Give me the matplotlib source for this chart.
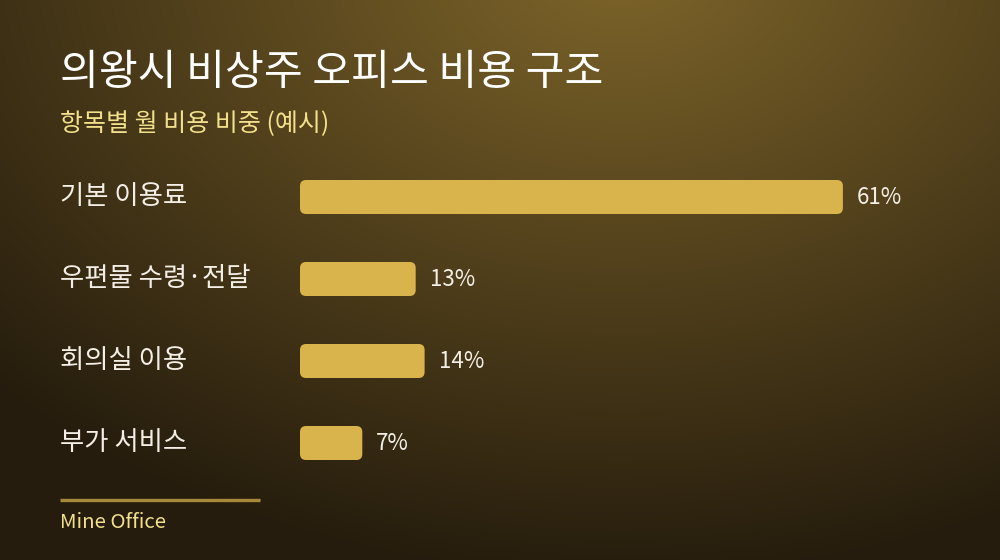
import numpy as np
import matplotlib
matplotlib.use('Agg')
import matplotlib.pyplot as plt
from matplotlib.patches import FancyBboxPatch
from matplotlib.transforms import blended_transform_factory

plt.rcParams['font.family'] = ['Noto Sans CJK KR', 'DejaVu Sans']

categories = ['기본 이용료', '우편물 수령·전달', '회의실 이용', '부가 서비스']
shares = [61, 13, 14, 7]
value_labels = ['61%', '13%', '14%', '7%']

title = '의왕시 비상주 오피스 비용 구조'
subtitle = '항목별 월 비용 비중 (예시)'
footer = 'Mine Office'

W, H = 1000, 560
fig = plt.figure(figsize=(W / 100, H / 100), dpi=100)

# background: radial glow from the top, fading to dark brown
bg = fig.add_axes([0, 0, 1, 1])
yy, xx = np.mgrid[0:H, 0:W]
d = np.sqrt(((xx - 620) / 1.4) ** 2 + (yy + 40) ** 2)
t = np.clip(d / 620, 0, 1)
c0 = np.array([0x7e, 0x65, 0x2a]) / 255
c1 = np.array([0x25, 0x1c, 0x0d]) / 255
img = c0[None, None, :] * (1 - t[..., None]) + c1[None, None, :] * t[..., None]
bg.imshow(img, extent=[0, W, H, 0], aspect='auto')
bg.set_xlim(0, W)
bg.set_ylim(H, 0)
bg.axis('off')

# bar area
px_per_unit = 8.9
ax_w = 0.6
ax = fig.add_axes([0.3, 1 - 484 / H, ax_w, 328 / H])
ax.set_xlim(0, ax_w * W / px_per_unit)
ax.set_ylim(len(categories) - 0.5, -0.5)
ax.axis('off')

bar_h = 34 / 82
bars = ax.barh(range(len(categories)), shares, height=bar_h, color='none')
radius_x = 6 / px_per_unit
aspect = (6 / 82) / radius_x
for b in bars:
    p = FancyBboxPatch((b.get_x(), b.get_y()), b.get_width(), b.get_height(),
                       boxstyle=f'round,pad=0,rounding_size={radius_x}',
                       mutation_aspect=aspect, facecolor='#d9b44c',
                       edgecolor='none')
    ax.add_patch(p)
    b.remove()

lab_tr = blended_transform_factory(fig.transFigure, ax.transData)
for i, (cat, v, vl) in enumerate(zip(categories, shares, value_labels)):
    ax.text(0.06, i, cat, transform=lab_tr, ha='left', va='center',
            fontsize=19, color='#f4efe6')
    ax.text(v + 14 / px_per_unit, i, vl, ha='left', va='center',
            fontsize=16, color='#f4efe6')

fig.text(0.06, 1 - 73 / H, title, ha='left', va='center', fontsize=30.4,
         color='white', fontweight='medium')
fig.text(0.06, 1 - 124 / H, subtitle, ha='left', va='center', fontsize=18,
         color='#f2e08c')

fig.add_artist(plt.Line2D([0.06, 0.26], [1 - 500 / H, 1 - 500 / H],
                          transform=fig.transFigure, color='#a68a3a', lw=2.4,
                          solid_capstyle='butt'))
fig.text(0.06, 1 - 522 / H, footer, ha='left', va='center', fontsize=14.7,
         color='#f2e08c')

fig.savefig('out.png', dpi=100)
